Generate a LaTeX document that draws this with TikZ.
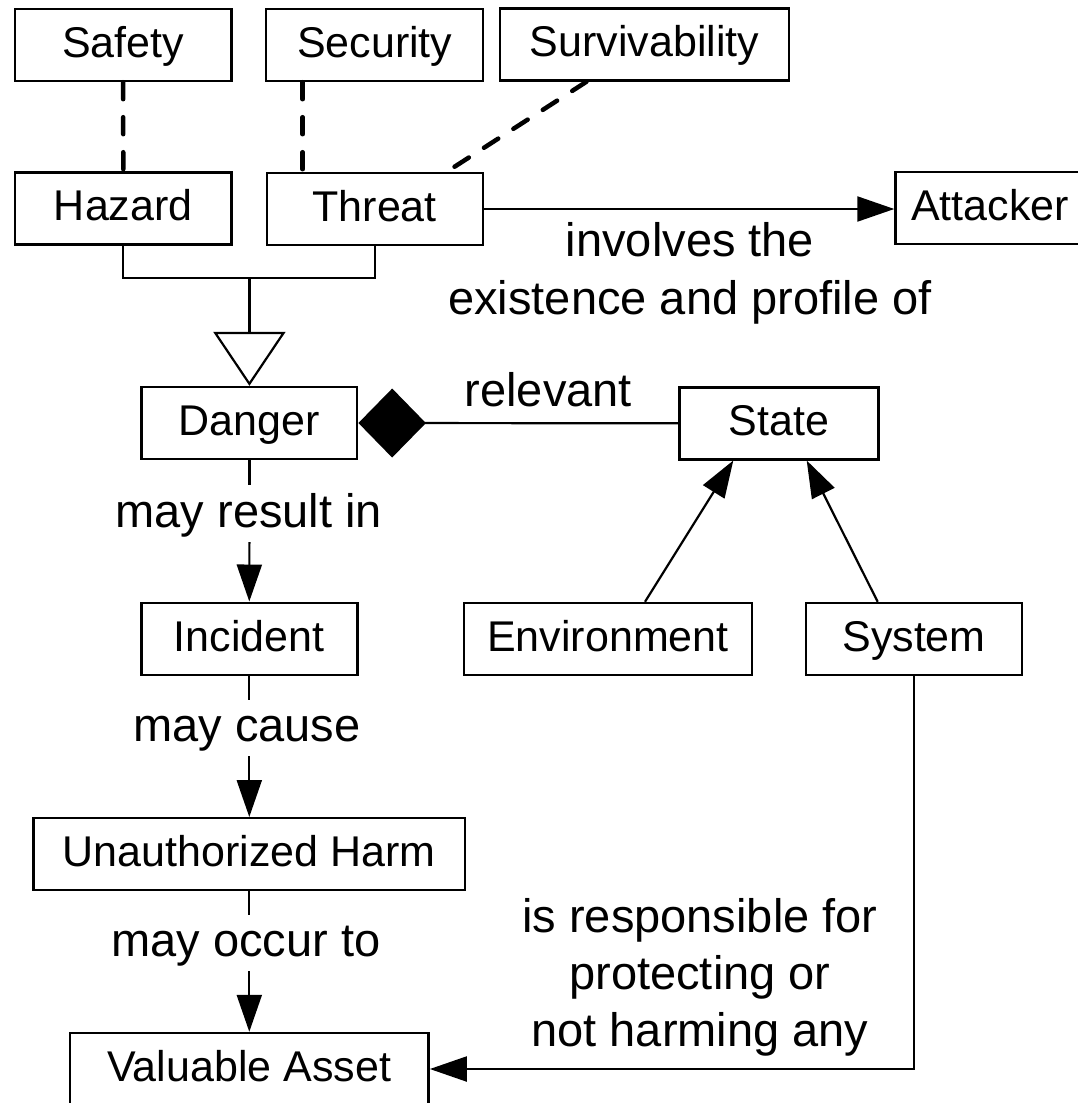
\documentclass[tikz,border=0pt]{standalone}
\usepackage{fontspec}
\setmainfont{Liberation Sans}
\usetikzlibrary{arrows.meta,calc}

\begin{document}
\begin{tikzpicture}[x=1bp,y=-1bp,
  box/.style={draw, line width=2.4bp, inner sep=0pt, minimum height=72bp,
    text height=32bp, text depth=7.2bp, font=\fontsize{43bp}{52bp}\selectfont},
  lbl/.style={inner sep=0pt, font=\fontsize{47bp}{58bp}\selectfont},
  gaplbl/.style={lbl, text height=42bp, text depth=14.5bp},
  conn/.style={line width=2.2bp},
  arr/.style={conn, -{Triangle[length=37bp,width=25bp]}},
  dashline/.style={line width=4.5bp, line cap=round, dash pattern=on 17bp off 18bp},
]
\useasboundingbox (0,0) rectangle (1078,1103);
\clip (0,0) rectangle (1078,1103);

% classes
\node[box, minimum width=216.6bp] (safety)      at (123.1,45)    {Safety};
\node[box, minimum width=217bp]   (security)    at (374.7,45)    {Security};
\node[box, minimum width=288.5bp] (surv)        at (644.5,44.5)  {Survivability};
\node[box, minimum width=216.7bp] (hazard)      at (123.3,208.3) {Hazard};
\node[box, minimum width=216bp]   (threat)      at (374.7,209)   {Threat};
\node[box, minimum width=189bp]   (attacker)    at (990,208)     {Attacker};
\node[box, minimum width=215.6bp] (danger)      at (249.4,423)   {Danger};
\node[box, minimum width=199bp]   (state)       at (779,423.3)   {State};
\node[box, minimum width=216bp]   (incident)    at (249.3,638.7) {Incident};
\node[box, minimum width=288bp]   (environment) at (608,639)     {Environment};
\node[box, minimum width=216bp]   (system)      at (914,639)     {System};
\node[box, minimum width=431.5bp] (harm)        at (249.3,854.2) {Unauthorized Harm};
\node[box, minimum width=358.7bp] (asset)       at (249.3,1069)  {Valuable Asset};

% quality links
\draw[dashline] (safety.south) -- (hazard.north);
\draw[dashline] ([xshift=-72bp]security.south) -- ([xshift=-72bp]threat.north);
\draw[dashline] ([xshift=-58bp]surv.south) -- ([xshift=72bp]threat.north);

% threat involves attacker
\draw[arr] (threat.east) -- (threat.east -| attacker.west);
\node[lbl, anchor=base, align=center] (involves) at (690,314)
  {involves the\\existence and profile of};

% generalization of hazard and threat into danger
\coordinate (join) at (249.4,278);
\draw[conn] (hazard.south) -- (hazard.south |- join) -- (threat.south |- join) -- (threat.south);
\draw[conn, -{Triangle[open, length=54bp, width=72bp]}] (join) -- (danger.north);

% danger aggregates relevant state
\draw[conn, -{Diamond[length=67.5bp, width=69bp]}] (state.west) -- (danger.east);
\node[lbl, anchor=base] (relevant) at (548.3,406.7) {relevant};

\draw[arr] ([xshift=37bp]environment.north) -- ([xshift=-45.7bp]state.south);
\draw[arr] ([xshift=-36.3bp]system.north) -- ([xshift=27.7bp]state.south);

% causal chain
\node[gaplbl, anchor=base] (resultin) at (248.9,527.3) {may result in};
\draw[conn] (danger.south) -- (danger.south |- resultin.north);
\draw[arr] (danger.south |- resultin.south) -- (incident.north);

\node[gaplbl, anchor=base] (cause) at (247,741.7) {may cause};
\draw[conn] (incident.south) -- (incident.south |- cause.north);
\draw[arr] (incident.south |- cause.south) -- (harm.north);

\node[gaplbl, anchor=base] (occur) at (246,956.7) {may occur to};
\draw[conn] (harm.south) -- (harm.south |- occur.north);
\draw[arr] (harm.south |- occur.south) -- (asset.north);

% system responsibility
\draw[arr] (system.south) |- (asset.east);
\node[lbl, anchor=base, align=center, font=\fontsize{47bp}{57bp}\selectfont] (resp)
  at (700,1046.7) {is responsible for\\protecting or\\not harming any};
\end{tikzpicture}
\end{document}
